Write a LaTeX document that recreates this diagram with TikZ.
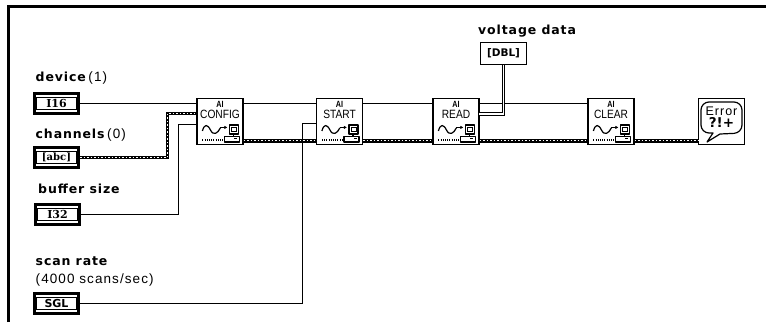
\documentclass[tikz,border=0pt]{standalone}
\usepackage{fontspec}
\setmainfont{DejaVu Sans}
\newfontfamily\lblfam[LetterSpace=7]{DejaVu Sans}
\newcommand{\lblfont}{\lblfam\bfseries}
\newfontfamily\seriffam{DejaVu Serif}
\newcommand{\serifb}{\seriffam\bfseries}
\newfontfamily\plainf{Liberation Sans}
\newfontfamily\plainwide[LetterSpace=8]{Liberation Sans}
\newfontfamily\plainnarrow[FakeStretch=0.85]{Liberation Sans}
\newfontfamily\ainarrow[FakeStretch=0.8]{Liberation Sans}
\usetikzlibrary{arrows.meta}
\tikzset{
  x=1pt,y=-1pt,
  ctlouter/.style={draw,line width=2.6pt,minimum width=44.5pt,minimum height=20.5pt,inner sep=0pt,fill=white},
  ctlinner/.style={draw,line width=1.1pt,minimum width=40pt,minimum height=12pt,inner sep=0pt,font=\serifb\fontsize{11}{11}\selectfont},
  indic/.style={draw,line width=1.1pt,minimum width=46pt,minimum height=22pt,inner sep=0pt,fill=white,font=\bfseries\fontsize{10.5}{11}\selectfont},
  vi/.style={draw,line width=1.2pt,minimum width=46pt,minimum height=46pt,inner sep=0pt,fill=white},
  viai/.style={inner sep=0pt,text height=6.5pt,text depth=0pt,font=\ainarrow\bfseries\fontsize{9}{9}\selectfont},
  vitext/.style={inner sep=0pt,text height=8.5pt,text depth=0pt,font=\plainnarrow\fontsize{12}{12}\selectfont},
  lbl/.style={anchor=base west,inner sep=0pt,font=\lblfont\fontsize{12.5}{13}\selectfont},
  lblp/.style={anchor=base west,inner sep=0pt,font=\plainwide\fontsize{13.5}{14}\selectfont},
  wire/.style={line width=1.5pt},
  dblwire/.style={line width=1.1pt,double=white,double distance=1.5pt},
  beadback/.style={line width=4pt,black},
  beadfront/.style={line width=1.2pt,white,dash pattern=on 1.5pt off 2pt},
  beadbackthin/.style={line width=3.4pt,black},
  ico/.style={line width=1.2pt,line join=round},
}
\newcommand{\viicon}[1]{%
  \begin{scope}[shift={(#1.north west)}]
    \draw[ico] (6,33) .. controls (8,26) and (11,26) .. (14,32) .. controls (17,38) and (21,36) .. (24,30);
    \draw[ico,-{Latex[length=3pt,width=3.5pt]}] (24,29.5) -- (31,29.5);
    \draw[ico] (33,27) rectangle (42,36);
    \draw[line width=.8pt] (35,29) rectangle (40,33);
    \draw[ico] (28,38.5) rectangle (43,44);
    \draw[ico] (37,36) -- (37,38.5);
    \fill (38,40.5) rectangle (41,41.5);
    \draw[line width=1.8pt,dash pattern=on 1pt off 1.2pt] (6,42) -- (26,42);
  \end{scope}}
\begin{document}
\begin{tikzpicture}
\useasboundingbox (0,0) rectangle (766,322);
\fill[white] (0,0) rectangle (766,322);
\draw[line width=3pt] (8.7,322) -- (8.7,6.7) -- (766,6.7);

\coordinate (top) at (0,103.5);
\coordinate (err) at (0,140.5);

\node[ctlouter] (dev) at (56.5,103.5) {};
\node[ctlinner] (devi) at (dev) {I16};
\node[ctlouter] (chn) at (56.5,157.5) {};
\node[ctlinner,font=\serifb\fontsize{10}{10}\selectfont] (chni) at (chn) {[abc]};
\node[ctlouter] (bsz) at (57.5,214.5) {};
\node[ctlinner] (bszi) at (bsz) {I32};
\node[ctlouter] (rate) at (56.5,303.5) {};
\node[ctlinner,font=\fontsize{11}{11}\selectfont\bfseries] (ratei) at (rate) {SGL};
\node[indic] (dbl) at (503.5,53.5) {[DBL]};

\node[vi] (cfg) at (220,121.5) {};
\node[vi] (st) at (339.5,121.5) {};
\node[vi] (rd) at (456,121.5) {};
\node[vi] (clr) at (611,121.5) {};
\node[vi] (er) at (721.5,121.5) {};

\coordinate (chnj) at (167.5,157.5);
\coordinate (chnk) at (167.5,113.5);
\coordinate (bszj) at (178.5,214.5);
\coordinate (bszk) at (178.5,124.5);
\coordinate (ratej) at (302.5,303.5);
\coordinate (ratek) at (302.5,123.5);
\coordinate (rdout) at (479,114);

\draw[wire] (dev.east) -- (dev.east -| cfg.west);
\draw[wire] (cfg.east |- top) -- (st.west |- top);
\draw[wire] (st.east |- top) -- (rd.west |- top);
\draw[wire] (rd.east |- top) -- (clr.west |- top);
\draw[wire] (bsz.east) -- (bszj) -- (bszk) -- (bszk -| cfg.west);
\draw[wire] (rate.east) -- (ratej) -- (ratek) -- (ratek -| st.west);

\draw[beadbackthin] (chn.east) -- (chnj) -- (chnk) -- (chnk -| cfg.west);
\draw[beadfront] (chn.east) -- (chnj) -- (chnk) -- (chnk -| cfg.west);
\foreach \a/\b in {cfg/st,st/rd,rd/clr,clr/er}{
  \draw[beadback] (\a.east |- err) -- (\b.west |- err);
  \draw[beadfront] (\a.east |- err) -- (\b.west |- err);
}
\draw[dblwire] (rdout) -| (dbl.south);

\node[viai] (cfga) at (220,104.5) {AI};
\node[vitext] (cfgt) at (220,114) {CONFIG};
\viicon{cfg}
\node[viai] (sta) at (339.5,104.5) {AI};
\node[vitext] (stt) at (339.5,114) {START};
\viicon{st}
\node[viai] (rda) at (456,104.5) {AI};
\node[vitext] (rdt) at (456,114) {READ};
\viicon{rd}
\node[viai] (clra) at (611,104.5) {AI};
\node[vitext] (clrt) at (611,114) {CLEAR};
\viicon{clr}

% error handler
\draw[line width=1.2pt,line join=round]
  (720,134) [rounded corners=8pt] -- (742,133) -- (742,102) -- (701,102) -- (701,133) [sharp corners] -- (713,133) -- (707,142) -- cycle;
\node[inner sep=0pt,font=\plainwide\fontsize{12.5}{13}\selectfont] (ert) at (721.5,111.5) {Error};
\node[inner sep=0pt,font=\bfseries\fontsize{13.5}{14}\selectfont] (erq) at (721.5,122.5) {?!+};

\node[lbl] (l1) at (35.5,81) {device};
\node[lblp,anchor=base west] (l1b) at (l1.base east) {\,(1)};
\node[lbl] (l2) at (35.5,138) {channels};
\node[lblp] (l2b) at (l2.base east) {\,(0)};
\node[lbl] (l3) at (38,193) {buffer size};
\node[lbl] (l4) at (35.5,265) {scan rate};
\node[lblp] (l5) at (35.5,283) {(4000 scans/sec)};
\node[lbl] (l6) at (478,34) {voltage data};
\end{tikzpicture}
\end{document}
